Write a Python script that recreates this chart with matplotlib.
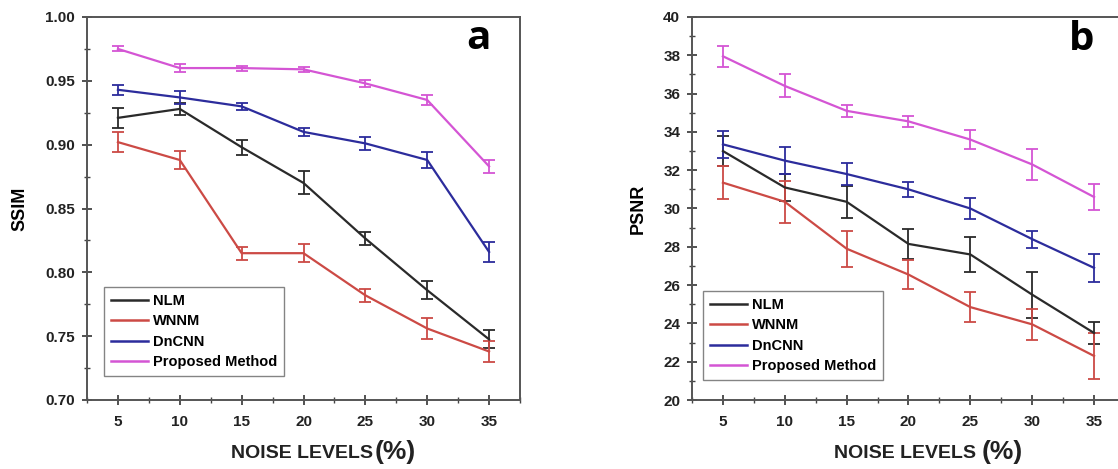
import matplotlib
matplotlib.use("Agg")
import matplotlib.pyplot as plt
from matplotlib.lines import Line2D
from matplotlib.ticker import MultipleLocator, FormatStrFormatter
from matplotlib import font_manager

noise = [5, 10, 15, 20, 25, 30, 35]
methods = ["NLM", "WNNM", "DnCNN", "Proposed Method"]
colors = ["#2a2a2a", "#cc4a45", "#2c2c9c", "#d455d4"]

ssim_nlm = [0.921, 0.928, 0.898, 0.870, 0.8265, 0.786, 0.7475]
ssim_nlm_err = [0.008, 0.005, 0.006, 0.009, 0.005, 0.007, 0.007]
ssim_wnnm = [0.902, 0.888, 0.815, 0.815, 0.782, 0.756, 0.738]
ssim_wnnm_err = [0.008, 0.007, 0.005, 0.007, 0.005, 0.008, 0.008]
ssim_dncnn = [0.943, 0.937, 0.930, 0.910, 0.901, 0.888, 0.816]
ssim_dncnn_err = [0.004, 0.005, 0.003, 0.003, 0.005, 0.006, 0.008]
ssim_prop = [0.975, 0.960, 0.960, 0.959, 0.948, 0.935, 0.883]
ssim_prop_err = [0.002, 0.003, 0.002, 0.002, 0.003, 0.004, 0.005]

psnr_nlm = [33.0, 31.1, 30.35, 28.15, 27.6, 25.5, 23.5]
psnr_nlm_err = [0.8, 0.7, 0.85, 0.8, 0.9, 1.2, 0.55]
psnr_wnnm = [31.35, 30.35, 27.9, 26.55, 24.85, 23.95, 22.3]
psnr_wnnm_err = [0.85, 1.1, 0.95, 0.75, 0.8, 0.8, 1.2]
psnr_dncnn = [33.35, 32.5, 31.8, 31.0, 30.0, 28.4, 26.9]
psnr_dncnn_err = [0.7, 0.7, 0.55, 0.4, 0.55, 0.45, 0.75]
psnr_prop = [37.95, 36.4, 35.1, 34.55, 33.6, 32.3, 30.6]
psnr_prop_err = [0.55, 0.6, 0.3, 0.3, 0.5, 0.8, 0.7]

available = {f.name for f in font_manager.fontManager.ttflist}
NARROW = 'Liberation Sans Narrow' in available
tick_font = ['Liberation Sans Narrow', 'Liberation Sans', 'DejaVu Sans'] if NARROW else ['Liberation Sans', 'DejaVu Sans']
tick_size = 13 if NARROW else 11
lab_size = 17 if NARROW else 14
leg_size = 12 if NARROW else 10.5

plt.rcParams['font.family'] = ['Liberation Sans', 'DejaVu Sans']

W, H = 1118, 469
fig = plt.figure(figsize=(W / 100, H / 100), dpi=100)
axa = fig.add_axes([87 / W, (H - 400) / H, 433 / W, 383 / H])
axb = fig.add_axes([692 / W, (H - 400) / H, 433 / W, 383 / H])


def draw(ax, series, errs, ylim, ymaj, ymin, ylabel, letter, letter_xy, fmt,
         leg_xy, xl_pos):
    for vals, err, c in zip(series, errs, colors):
        ax.errorbar(noise, vals, yerr=err, color=c, lw=1.6, elinewidth=1.3,
                    capsize=4, capthick=1.3)
    ax.set_xlim(2.5, 37.5)
    ax.set_ylim(*ylim)
    ax.set_xticks(noise)
    ax.xaxis.set_minor_locator(MultipleLocator(2.5))
    ax.yaxis.set_major_locator(MultipleLocator(ymaj))
    ax.yaxis.set_minor_locator(MultipleLocator(ymin))
    ax.yaxis.set_major_formatter(FormatStrFormatter(fmt))
    ax.tick_params(which='major', direction='inout', length=7, width=1.2,
                   labelsize=tick_size, colors='#333333', labelcolor='#222222',
                   top=False, right=False)
    ax.tick_params(axis='x', which='major', pad=7)
    ax.tick_params(axis='y', which='major', pad=5)
    ax.tick_params(which='minor', direction='inout', length=4, width=1.0,
                   colors='#444444', top=False, right=False)
    for lab in ax.get_xticklabels() + ax.get_yticklabels():
        lab.set_fontweight('bold')
        lab.set_family(tick_font)
    for s in ax.spines.values():
        s.set_linewidth(1.4)
        s.set_color('#555555')
    ax.set_ylabel(ylabel, fontsize=13, fontweight='bold', labelpad=12)
    ax.text(letter_xy[0], letter_xy[1], letter, fontsize=29, fontweight='bold',
            ha='center', va='center', transform=ax.transAxes,
            family=['Open Sans', 'DejaVu Sans'])
    # x label: "NOISE LEVELS" and a larger "(%)"
    fig.text(xl_pos[0] / W, 1 - 453 / H, "NOISE LEVELS", fontsize=lab_size,
             family=tick_font, fontweight='bold', ha='right', va='center',
             color='#222222')
    fig.text(xl_pos[1] / W, 1 - 452 / H, "(%)", fontsize=lab_size + 5,
             family=tick_font, fontweight='bold', ha='left', va='center',
             color='#222222')
    handles = [Line2D([0], [0], color=c, lw=1.8) for c in colors]
    leg = ax.legend(handles, methods, loc='lower left',
                    bbox_to_anchor=((leg_xy[0]) / 433, (400 - leg_xy[1]) / 383),
                    prop={'weight': 'bold', 'size': leg_size, 'family': tick_font},
                    frameon=True, fancybox=False, handlelength=2.6,
                    handletextpad=0.3, borderpad=0.45, labelspacing=0.45,
                    borderaxespad=0)
    leg.get_frame().set_edgecolor('#666666')
    leg.get_frame().set_linewidth(1.0)


draw(axa, [ssim_nlm, ssim_wnnm, ssim_dncnn, ssim_prop],
     [ssim_nlm_err, ssim_wnnm_err, ssim_dncnn_err, ssim_prop_err],
     (0.70, 1.00), 0.05, 0.025, "SSIM", "a", (0.905, 0.945), '%.2f',
     (104 - 87, 376), (373, 375))
draw(axb, [psnr_nlm, psnr_wnnm, psnr_dncnn, psnr_prop],
     [psnr_nlm_err, psnr_wnnm_err, psnr_dncnn_err, psnr_prop_err],
     (20, 40), 2, 1, "PSNR", "b", (0.90, 0.94), '%d',
     (703 - 692, 380), (976, 982))

fig.savefig("out.png", dpi=100)
